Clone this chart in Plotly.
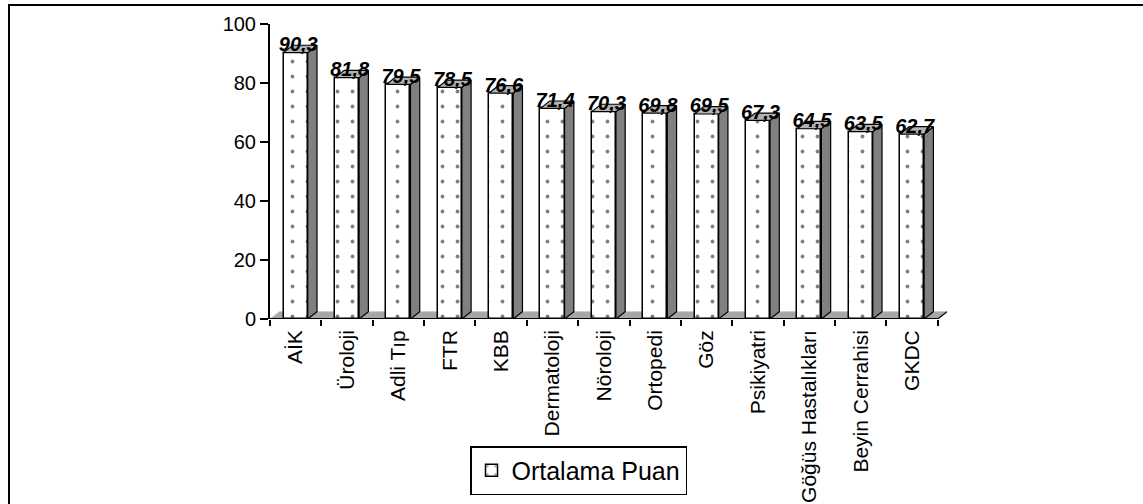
import plotly.graph_objects as go

categories = ["AİK", "Üroloji", "Adli Tıp", "FTR", "KBB", "Dermatoloji", "Nöroloji",
              "Ortopedi", "Göz", "Psikiyatri", "Göğüs Hastalıkları", "Beyin Cerrahisi", "GKDC"]
values = [90.3, 81.8, 79.5, 78.5, 76.6, 71.4, 70.3, 69.8, 69.5, 67.3, 64.5, 63.5, 62.7]
series_name = "Ortalama Puan"
y_ticks = [0, 20, 40, 60, 80, 100]

FONT = "Liberation Sans, Arial, sans-serif"
W = 0.47      # bar front width (category units)
DX = 0.18     # 3D depth offset in x (category units)
DY = 2.5      # 3D depth offset in y (value units)

idx = list(range(len(categories)))
n = len(categories)

# side and top faces built from the values
side_x, side_y, top_x, top_y = [], [], [], []
for i, v in zip(idx, values):
    xr = i + W / 2
    xl = i - W / 2
    side_x += [xr, xr + DX, xr + DX, xr, xr, None]
    side_y += [0, DY, v + DY, v, 0, None]
    top_x += [xl, xl + DX, xr + DX, xr, xl, None]
    top_y += [v, v + DY, v + DY, v, v, None]

fig = go.Figure()

fig.add_trace(go.Bar(
    x=idx, y=values, width=W, name=series_name,
    marker=dict(color="white",
                line=dict(color="black", width=1.5),
                pattern=dict(shape=".", fgcolor="black", bgcolor="white",
                             size=15, solidity=0.05)),
    showlegend=True, hoverinfo="skip",
))

fig.add_trace(go.Scatter(
    x=side_x, y=side_y, mode="lines", fill="toself",
    fillcolor="#808080", line=dict(color="black", width=1.2),
    showlegend=False, hoverinfo="skip",
))
fig.add_trace(go.Scatter(
    x=top_x, y=top_y, mode="lines", fill="toself",
    fillcolor="#b3b3b3", line=dict(color="black", width=1.2),
    showlegend=False, hoverinfo="skip",
))

fig.add_trace(go.Scatter(
    x=[i + 0.05 for i in idx], y=[v + 2.2 for v in values],
    mode="text",
    text=[f"{v:.1f}".replace(".", ",") for v in values],
    textposition="middle center",
    textfont=dict(family=FONT, size=20, color="black", weight="bold", style="italic"),
    showlegend=False, hoverinfo="skip", cliponaxis=False,
))

# floor and front edges
fig.add_shape(type="path", xref="x", yref="y", layer="below",
              path=f"M -0.5,0 L {-0.5 + DX},{DY} L {n - 0.5 + DX},{DY} L {n - 0.5},0 Z",
              fillcolor="#a6a6a6", line=dict(color="#c8c8c8", width=1))
fig.add_shape(type="line", xref="x", yref="y", x0=-0.5, y0=0, x1=n - 0.5, y1=0,
              line=dict(color="black", width=1.8))
fig.add_shape(type="line", xref="x", yref="y", x0=n - 0.5, y0=0, x1=n - 0.5 + DX, y1=DY,
              line=dict(color="black", width=1.2))

# outer chart border (only left/top visible in the frame)
fig.add_shape(type="rect", xref="paper", yref="paper",
              x0=(7 - 268) / 677, x1=2, y0=-3, y1=1 + (24 - 5) / 295,
              line=dict(color="black", width=2), fillcolor="rgba(0,0,0,0)")

fig.update_layout(
    width=1143, height=504,
    margin=dict(l=270, r=196, t=24, b=185, autoexpand=False),
    paper_bgcolor="white", plot_bgcolor="white",
    bargap=0,
    font=dict(family=FONT, size=20, color="black"),
    showlegend=True,
    legend=dict(orientation="h", xref="container", yref="container",
                x=578.5 / 1143, xanchor="center",
                y=1 - 446 / 504, yanchor="top",
                bordercolor="black", borderwidth=1.5, bgcolor="white",
                font=dict(family=FONT, size=25, color="black"),
                itemwidth=30, tracegroupgap=0),
    xaxis=dict(range=[-0.5, n - 0.5 + DX], tickmode="array", tickvals=idx,
               ticktext=categories, tickangle=-90, ticks="", showline=False,
               showgrid=False, zeroline=False, ticklabelstandoff=6, automargin=False,
               tickfont=dict(family=FONT, size=21, color="black"),
               minor=dict(ticks="outside", tick0=-0.5, dtick=1, ticklen=6,
                          tickwidth=1.5, tickcolor="black", showgrid=False)),
    yaxis=dict(range=[0, 100], tickvals=y_ticks, ticks="outside", ticklen=8,
               tickwidth=1.5, tickcolor="black", showline=True, linecolor="black",
               linewidth=2, showgrid=False, zeroline=False, automargin=False,
               tickfont=dict(family=FONT, size=20, color="black")),
)

fig.write_html("out.html", config={"displayModeBar": False},
               post_script="document.body.style.margin='0px';document.body.style.overflow='hidden';")
